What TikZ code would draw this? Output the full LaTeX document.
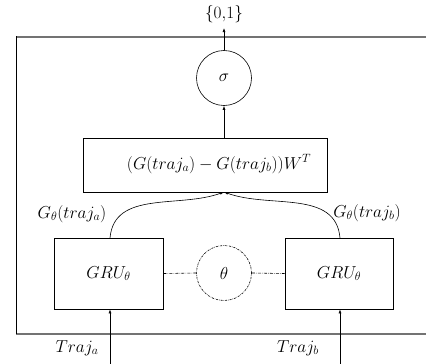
\documentclass[tikz,border=0pt]{standalone}
\usetikzlibrary{arrows.meta}
\begin{document}
\begin{tikzpicture}[x=1pt,y=-1pt,
  every node/.style={font=\fontsize{18}{21}\selectfont},
  boxx/.style={draw,line width=0.8pt,inner sep=0pt},
  circ/.style={draw,circle,line width=0.6pt,minimum size=55pt,inner sep=0pt},
  arr/.style={line width=0.6pt,-{Latex[length=4pt,width=3pt]}},
  frame/.style={draw=black!55,line width=1.5pt}]
\useasboundingbox (0,0) rectangle (426,364);
% frame
\draw[frame] (16,37) -- (426,37);
\draw[frame] (16,334) -- (426,334);
\draw[line width=1pt] (16,36.3) -- (16,334);
% nodes
\node (out) at (224,14) {$\{0{,}1\}$};
\node[circ] (sig) at (224,78) {$\sigma$};
\node[boxx,minimum width=244pt,minimum height=54pt] (diff) at (205,165) {};
\node (fx) at (219,164) {$\bigl(G(traj_a)-G(traj_b)\bigr)W^T$};
\node[boxx,minimum width=109pt,minimum height=71pt] (gA) at (108.5,273.5) {$GRU_\theta$};
\node[boxx,minimum width=108pt,minimum height=71pt] (gB) at (339,273.5) {$GRU_\theta$};
\node[circ,dash pattern=on 2pt off 1pt on 0.5pt off 1pt] (th) at (224,273) {$\theta$};
\coordinate (tip) at (224,192);
\coordinate (inA) at (110,364);
\coordinate (inB) at (340,364);
\coordinate (topA) at (110,238);
\coordinate (topB) at (340,238);
\coordinate (sigtop) at (224,28);
% labels
\node (lA) at (72,214) {$G_\theta(traj_a)$};
\node (lB) at (367,213) {$G_\theta(traj_b)$};
\node (tA) at (77,348) {$Traj_a$};
\node (tB) at (298,348) {$Traj_b$};
% connectors
\draw[arr] (sig.north) -- (sigtop);
\draw[arr] (224,138) -- (sig.south);
\draw[arr] (topA) to[out=85,in=200] (tip);
\draw[arr] (topB) to[out=95,in=-20] (tip);
\draw[arr] (inA) -- (gA.south -| inA);
\draw[arr] (inB) -- (gB.south -| inB);
\draw[line width=0.6pt,dash pattern=on 3pt off 1.2pt on 0.6pt off 1.2pt] (gA.east) -- (th.west);
\draw[line width=0.6pt,dash pattern=on 3pt off 1.2pt on 0.6pt off 1.2pt] (th.east) -- (gB.west);
\end{tikzpicture}
\end{document}
